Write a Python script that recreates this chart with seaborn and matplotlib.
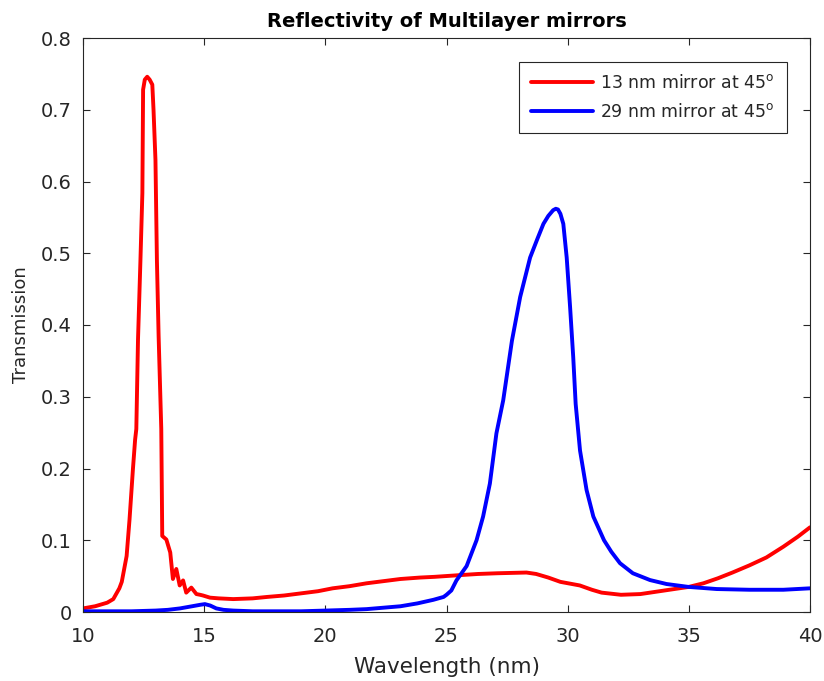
import matplotlib
matplotlib.use("Agg")
import matplotlib.pyplot as plt
import seaborn as sns
import pandas as pd

# Reflectivity curves of the two multilayer mirrors (wavelength in nm)
wl_13 = [10.0, 10.5, 11.0, 11.25, 11.5, 11.6, 11.8, 11.92, 12.06, 12.15, 12.2,
         12.27, 12.37, 12.45, 12.48, 12.55, 12.65, 12.75, 12.86, 12.91, 12.99,
         13.05, 13.12, 13.23, 13.27, 13.44, 13.6, 13.71, 13.85, 13.99, 14.13,
         14.26, 14.47, 14.68, 14.83, 14.95, 15.24, 15.6, 16.2, 17.0, 17.6, 18.3,
         19.0, 19.7, 20.3, 21.0, 21.7, 22.4, 23.1, 23.9, 24.5, 25.6, 26.3, 27.1,
         28.3, 28.7, 29.2, 29.7, 30.5, 31.0, 31.4, 32.2, 33.0, 33.4, 34.2, 35.0,
         35.6, 36.2, 36.8, 37.5, 38.2, 38.9, 39.5, 40.0]
refl_13 = [0.005, 0.008, 0.013, 0.018, 0.033, 0.042, 0.078, 0.129, 0.199, 0.24,
           0.255, 0.38, 0.49, 0.584, 0.728, 0.742, 0.746, 0.742, 0.735, 0.70,
           0.63, 0.49, 0.385, 0.255, 0.106, 0.101, 0.083, 0.046, 0.06, 0.037,
           0.044, 0.027, 0.034, 0.025, 0.024, 0.023, 0.020, 0.019, 0.018,
           0.019, 0.021, 0.023, 0.026, 0.029, 0.033, 0.036, 0.040, 0.043,
           0.046, 0.048, 0.049, 0.0515, 0.053, 0.054, 0.055, 0.053, 0.048,
           0.042, 0.037, 0.031, 0.027, 0.024, 0.025, 0.027, 0.031, 0.035,
           0.040, 0.047, 0.055, 0.065, 0.076, 0.091, 0.105, 0.118]

wl_29 = [10.0, 11.0, 12.0, 13.0, 13.5, 14.0, 14.5, 14.83, 15.03, 15.25, 15.5,
         15.8, 16.2, 17.0, 18.0, 19.0, 20.0, 21.0, 21.7, 22.4, 23.1, 23.8,
         24.46, 24.88, 25.0, 25.2, 25.41, 25.83, 26.24, 26.51, 26.79, 27.06,
         27.34, 27.7, 28.04, 28.45, 28.75, 29.0, 29.2, 29.4, 29.51, 29.6,
         29.7, 29.82, 29.96, 30.1, 30.23, 30.33, 30.51, 30.78, 31.06, 31.3,
         31.5, 31.8, 32.16, 32.69, 33.4, 34.08, 34.98, 36.15, 37.5, 38.9, 40.0]
refl_29 = [0.001, 0.001, 0.001, 0.002, 0.003, 0.005, 0.008, 0.010, 0.011,
           0.009, 0.005, 0.003, 0.002, 0.001, 0.001, 0.001, 0.002, 0.003,
           0.004, 0.006, 0.008, 0.012, 0.017, 0.021, 0.024, 0.030, 0.044,
           0.064, 0.10, 0.133, 0.179, 0.249, 0.295, 0.378, 0.439, 0.494,
           0.520, 0.541, 0.552, 0.560, 0.562, 0.561, 0.555, 0.541, 0.494,
           0.425, 0.355, 0.29, 0.225, 0.17, 0.133, 0.115, 0.10, 0.084, 0.068,
           0.054, 0.0445, 0.039, 0.035, 0.032, 0.031, 0.031, 0.033]

series_labels = ["13 nm mirror at 45$^\\mathregular{o}$",
                 "29 nm mirror at 45$^\\mathregular{o}$"]
series_colors = ["#ff0000", "#0000ff"]

x_ticks = [10, 15, 20, 25, 30, 35, 40]
y_ticks = [0, 0.1, 0.2, 0.3, 0.4, 0.5, 0.6, 0.7, 0.8]
y_tick_labels = ["0", "0.1", "0.2", "0.3", "0.4", "0.5", "0.6", "0.7", "0.8"]

sns.set_style("white")
plt.rcParams["font.family"] = ["DejaVu Sans"]
plt.rcParams["mathtext.fontset"] = "dejavusans"

fig = plt.figure(figsize=(8.24, 6.81), dpi=100)
ax = fig.add_axes([83 / 824, 1 - 612 / 681, (810 - 83) / 824, (612 - 38) / 681])

frames = [
    pd.DataFrame({"wl": wl_13, "r": refl_13}),
    pd.DataFrame({"wl": wl_29, "r": refl_29}),
]
for df, lab, col in zip(frames, series_labels, series_colors):
    sns.lineplot(data=df, x="wl", y="r", ax=ax, color=col, linewidth=2.8,
                 label=lab, estimator=None, sort=False)

ax.set_xlim(10, 40)
ax.set_ylim(0, 0.8)
ax.set_xticks(x_ticks)
ax.set_xticklabels([str(t) for t in x_ticks])
ax.set_yticks(y_ticks)
ax.set_yticklabels(y_tick_labels)

grey = "#262626"
for side in ["left", "right", "top", "bottom"]:
    ax.spines[side].set_visible(True)
    ax.spines[side].set_color(grey)
    ax.spines[side].set_linewidth(0.8)
ax.tick_params(axis="both", which="both", direction="in", length=5, width=0.8,
               colors=grey, labelsize=14, top=True, right=True,
               bottom=True, left=True)
ax.tick_params(axis="x", pad=11)
ax.tick_params(axis="y", pad=8)

ax.set_xlabel("Wavelength (nm)", fontsize=15.5, color=grey, labelpad=8)
ax.set_ylabel("Transmission", fontsize=13, color=grey, labelpad=8)
ax.set_title("Reflectivity of Multilayer mirrors", fontsize=14,
             fontweight="bold", color="black", pad=8)

leg = ax.legend(loc="upper right", bbox_to_anchor=(0.968, 0.958), fontsize=12.5,
                frameon=True, fancybox=False, framealpha=1, edgecolor=grey,
                handlelength=3.6, borderpad=0.7, labelspacing=0.62,
                handletextpad=0.4, borderaxespad=0)
leg.get_frame().set_linewidth(0.8)

fig.savefig("out.png", dpi=100)
